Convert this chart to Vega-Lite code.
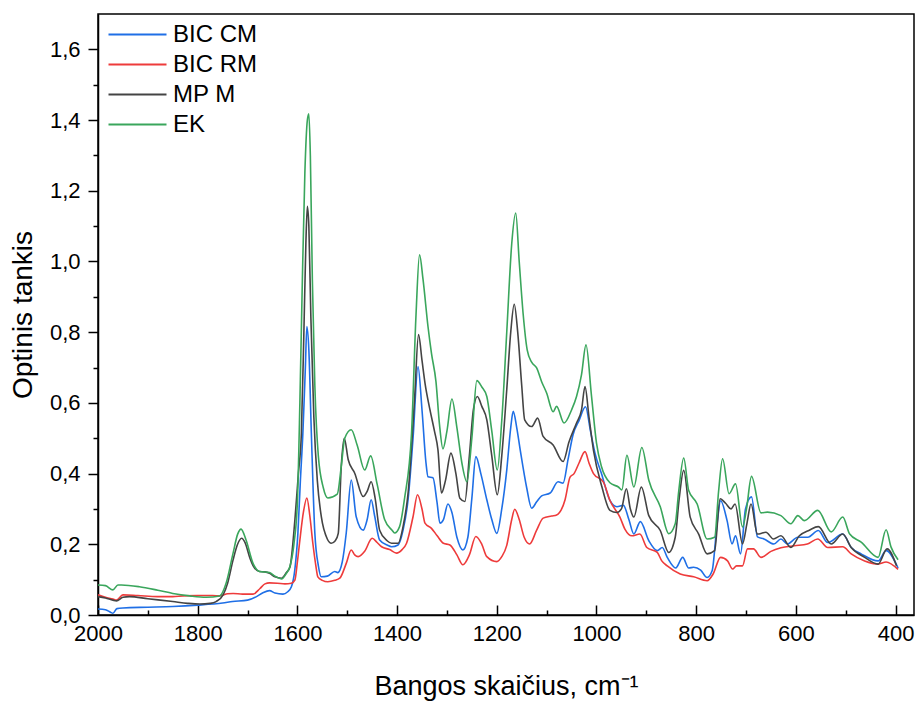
{
  "$schema": "https://vega.github.io/schema/vega-lite/v6.json",
  "width": 816,
  "height": 601,
  "autosize": {"type": "none"},
  "padding": {"left": 98, "top": 14, "right": 4, "bottom": 90},
  "background": "white",
  "config": {
    "font": "Liberation Sans",
    "view": {"stroke": "#000", "strokeWidth": 1.5}
  },
  "data": {
    "values": [
      {"s": "BIC CM", "x": 2000, "y": 0.017}, {"s": "BIC CM", "x": 1985, "y": 0.015}, {"s": "BIC CM", "x": 1975, "y": 0.008}, {"s": "BIC CM", "x": 1970, "y": 0.005},
      {"s": "BIC CM", "x": 1962, "y": 0.018}, {"s": "BIC CM", "x": 1950, "y": 0.02}, {"s": "BIC CM", "x": 1900, "y": 0.022}, {"s": "BIC CM", "x": 1850, "y": 0.024},
      {"s": "BIC CM", "x": 1800, "y": 0.028}, {"s": "BIC CM", "x": 1750, "y": 0.034}, {"s": "BIC CM", "x": 1730, "y": 0.038}, {"s": "BIC CM", "x": 1700, "y": 0.042},
      {"s": "BIC CM", "x": 1682, "y": 0.052}, {"s": "BIC CM", "x": 1670, "y": 0.062}, {"s": "BIC CM", "x": 1656, "y": 0.069}, {"s": "BIC CM", "x": 1645, "y": 0.062},
      {"s": "BIC CM", "x": 1629, "y": 0.059}, {"s": "BIC CM", "x": 1620, "y": 0.065}, {"s": "BIC CM", "x": 1612, "y": 0.08}, {"s": "BIC CM", "x": 1605, "y": 0.13},
      {"s": "BIC CM", "x": 1599, "y": 0.231}, {"s": "BIC CM", "x": 1594, "y": 0.38}, {"s": "BIC CM", "x": 1589, "y": 0.514}, {"s": "BIC CM", "x": 1584, "y": 0.7},
      {"s": "BIC CM", "x": 1581, "y": 0.816}, {"s": "BIC CM", "x": 1577, "y": 0.75}, {"s": "BIC CM", "x": 1572, "y": 0.515}, {"s": "BIC CM", "x": 1565, "y": 0.232},
      {"s": "BIC CM", "x": 1558, "y": 0.14}, {"s": "BIC CM", "x": 1552, "y": 0.108}, {"s": "BIC CM", "x": 1540, "y": 0.11}, {"s": "BIC CM", "x": 1525, "y": 0.123},
      {"s": "BIC CM", "x": 1519, "y": 0.12}, {"s": "BIC CM", "x": 1510, "y": 0.15}, {"s": "BIC CM", "x": 1502, "y": 0.232}, {"s": "BIC CM", "x": 1492, "y": 0.382},
      {"s": "BIC CM", "x": 1482, "y": 0.278}, {"s": "BIC CM", "x": 1468, "y": 0.24}, {"s": "BIC CM", "x": 1460, "y": 0.27}, {"s": "BIC CM", "x": 1452, "y": 0.326},
      {"s": "BIC CM", "x": 1445, "y": 0.28}, {"s": "BIC CM", "x": 1435, "y": 0.212}, {"s": "BIC CM", "x": 1420, "y": 0.198}, {"s": "BIC CM", "x": 1411, "y": 0.193},
      {"s": "BIC CM", "x": 1398, "y": 0.198}, {"s": "BIC CM", "x": 1388, "y": 0.24}, {"s": "BIC CM", "x": 1378, "y": 0.326}, {"s": "BIC CM", "x": 1368, "y": 0.5},
      {"s": "BIC CM", "x": 1358, "y": 0.703}, {"s": "BIC CM", "x": 1350, "y": 0.58}, {"s": "BIC CM", "x": 1342, "y": 0.43}, {"s": "BIC CM", "x": 1338, "y": 0.391},
      {"s": "BIC CM", "x": 1328, "y": 0.388}, {"s": "BIC CM", "x": 1320, "y": 0.32}, {"s": "BIC CM", "x": 1314, "y": 0.26}, {"s": "BIC CM", "x": 1307, "y": 0.27},
      {"s": "BIC CM", "x": 1298, "y": 0.314}, {"s": "BIC CM", "x": 1290, "y": 0.29}, {"s": "BIC CM", "x": 1280, "y": 0.22}, {"s": "BIC CM", "x": 1268, "y": 0.184},
      {"s": "BIC CM", "x": 1258, "y": 0.22}, {"s": "BIC CM", "x": 1250, "y": 0.33}, {"s": "BIC CM", "x": 1242, "y": 0.448}, {"s": "BIC CM", "x": 1232, "y": 0.4},
      {"s": "BIC CM", "x": 1220, "y": 0.326}, {"s": "BIC CM", "x": 1210, "y": 0.27}, {"s": "BIC CM", "x": 1200, "y": 0.231}, {"s": "BIC CM", "x": 1190, "y": 0.3},
      {"s": "BIC CM", "x": 1180, "y": 0.41}, {"s": "BIC CM", "x": 1172, "y": 0.53}, {"s": "BIC CM", "x": 1167, "y": 0.576}, {"s": "BIC CM", "x": 1160, "y": 0.53},
      {"s": "BIC CM", "x": 1153, "y": 0.467}, {"s": "BIC CM", "x": 1140, "y": 0.36}, {"s": "BIC CM", "x": 1130, "y": 0.302}, {"s": "BIC CM", "x": 1120, "y": 0.32},
      {"s": "BIC CM", "x": 1110, "y": 0.337}, {"s": "BIC CM", "x": 1093, "y": 0.345}, {"s": "BIC CM", "x": 1077, "y": 0.377}, {"s": "BIC CM", "x": 1067, "y": 0.373},
      {"s": "BIC CM", "x": 1057, "y": 0.44}, {"s": "BIC CM", "x": 1047, "y": 0.51}, {"s": "BIC CM", "x": 1035, "y": 0.55}, {"s": "BIC CM", "x": 1022, "y": 0.589},
      {"s": "BIC CM", "x": 1012, "y": 0.52}, {"s": "BIC CM", "x": 1003, "y": 0.458}, {"s": "BIC CM", "x": 990, "y": 0.4}, {"s": "BIC CM", "x": 973, "y": 0.324},
      {"s": "BIC CM", "x": 959, "y": 0.306}, {"s": "BIC CM", "x": 946, "y": 0.31}, {"s": "BIC CM", "x": 935, "y": 0.27}, {"s": "BIC CM", "x": 925, "y": 0.229},
      {"s": "BIC CM", "x": 912, "y": 0.264}, {"s": "BIC CM", "x": 895, "y": 0.21}, {"s": "BIC CM", "x": 878, "y": 0.182}, {"s": "BIC CM", "x": 868, "y": 0.191},
      {"s": "BIC CM", "x": 858, "y": 0.163}, {"s": "BIC CM", "x": 841, "y": 0.133}, {"s": "BIC CM", "x": 827, "y": 0.163}, {"s": "BIC CM", "x": 815, "y": 0.133},
      {"s": "BIC CM", "x": 805, "y": 0.135}, {"s": "BIC CM", "x": 791, "y": 0.127}, {"s": "BIC CM", "x": 778, "y": 0.106}, {"s": "BIC CM", "x": 768, "y": 0.125},
      {"s": "BIC CM", "x": 758, "y": 0.258}, {"s": "BIC CM", "x": 751, "y": 0.323}, {"s": "BIC CM", "x": 738, "y": 0.267}, {"s": "BIC CM", "x": 728, "y": 0.201},
      {"s": "BIC CM", "x": 721, "y": 0.224}, {"s": "BIC CM", "x": 711, "y": 0.173}, {"s": "BIC CM", "x": 701, "y": 0.3}, {"s": "BIC CM", "x": 689, "y": 0.334},
      {"s": "BIC CM", "x": 677, "y": 0.221}, {"s": "BIC CM", "x": 664, "y": 0.215}, {"s": "BIC CM", "x": 644, "y": 0.201}, {"s": "BIC CM", "x": 630, "y": 0.215},
      {"s": "BIC CM", "x": 617, "y": 0.201}, {"s": "BIC CM", "x": 596, "y": 0.22}, {"s": "BIC CM", "x": 576, "y": 0.22}, {"s": "BIC CM", "x": 555, "y": 0.239},
      {"s": "BIC CM", "x": 536, "y": 0.205}, {"s": "BIC CM", "x": 506, "y": 0.229}, {"s": "BIC CM", "x": 489, "y": 0.191}, {"s": "BIC CM", "x": 469, "y": 0.173},
      {"s": "BIC CM", "x": 435, "y": 0.153}, {"s": "BIC CM", "x": 419, "y": 0.182}, {"s": "BIC CM", "x": 395, "y": 0.133},

      {"s": "BIC RM", "x": 2000, "y": 0.057}, {"s": "BIC RM", "x": 1985, "y": 0.05}, {"s": "BIC RM", "x": 1970, "y": 0.045}, {"s": "BIC RM", "x": 1963, "y": 0.042},
      {"s": "BIC RM", "x": 1950, "y": 0.057}, {"s": "BIC RM", "x": 1920, "y": 0.055}, {"s": "BIC RM", "x": 1880, "y": 0.052}, {"s": "BIC RM", "x": 1850, "y": 0.052},
      {"s": "BIC RM", "x": 1830, "y": 0.054}, {"s": "BIC RM", "x": 1800, "y": 0.055}, {"s": "BIC RM", "x": 1770, "y": 0.055}, {"s": "BIC RM", "x": 1756, "y": 0.054},
      {"s": "BIC RM", "x": 1740, "y": 0.06}, {"s": "BIC RM", "x": 1729, "y": 0.061}, {"s": "BIC RM", "x": 1710, "y": 0.059}, {"s": "BIC RM", "x": 1689, "y": 0.059},
      {"s": "BIC RM", "x": 1675, "y": 0.075}, {"s": "BIC RM", "x": 1665, "y": 0.088}, {"s": "BIC RM", "x": 1656, "y": 0.091}, {"s": "BIC RM", "x": 1640, "y": 0.09},
      {"s": "BIC RM", "x": 1625, "y": 0.088}, {"s": "BIC RM", "x": 1612, "y": 0.09}, {"s": "BIC RM", "x": 1605, "y": 0.099}, {"s": "BIC RM", "x": 1600, "y": 0.15},
      {"s": "BIC RM", "x": 1595, "y": 0.212}, {"s": "BIC RM", "x": 1588, "y": 0.29}, {"s": "BIC RM", "x": 1581, "y": 0.331}, {"s": "BIC RM", "x": 1575, "y": 0.28},
      {"s": "BIC RM", "x": 1569, "y": 0.203}, {"s": "BIC RM", "x": 1563, "y": 0.14}, {"s": "BIC RM", "x": 1559, "y": 0.108}, {"s": "BIC RM", "x": 1550, "y": 0.098},
      {"s": "BIC RM", "x": 1539, "y": 0.094}, {"s": "BIC RM", "x": 1525, "y": 0.098}, {"s": "BIC RM", "x": 1515, "y": 0.104}, {"s": "BIC RM", "x": 1502, "y": 0.146},
      {"s": "BIC RM", "x": 1492, "y": 0.184}, {"s": "BIC RM", "x": 1485, "y": 0.17}, {"s": "BIC RM", "x": 1478, "y": 0.165}, {"s": "BIC RM", "x": 1465, "y": 0.18},
      {"s": "BIC RM", "x": 1450, "y": 0.217}, {"s": "BIC RM", "x": 1440, "y": 0.205}, {"s": "BIC RM", "x": 1431, "y": 0.193}, {"s": "BIC RM", "x": 1415, "y": 0.185},
      {"s": "BIC RM", "x": 1401, "y": 0.175}, {"s": "BIC RM", "x": 1390, "y": 0.185}, {"s": "BIC RM", "x": 1381, "y": 0.203}, {"s": "BIC RM", "x": 1368, "y": 0.278},
      {"s": "BIC RM", "x": 1359, "y": 0.34}, {"s": "BIC RM", "x": 1350, "y": 0.3}, {"s": "BIC RM", "x": 1344, "y": 0.26}, {"s": "BIC RM", "x": 1331, "y": 0.245},
      {"s": "BIC RM", "x": 1320, "y": 0.225}, {"s": "BIC RM", "x": 1307, "y": 0.203}, {"s": "BIC RM", "x": 1294, "y": 0.198}, {"s": "BIC RM", "x": 1280, "y": 0.17},
      {"s": "BIC RM", "x": 1268, "y": 0.142}, {"s": "BIC RM", "x": 1255, "y": 0.17}, {"s": "BIC RM", "x": 1242, "y": 0.222}, {"s": "BIC RM", "x": 1230, "y": 0.2},
      {"s": "BIC RM", "x": 1220, "y": 0.165}, {"s": "BIC RM", "x": 1200, "y": 0.151}, {"s": "BIC RM", "x": 1190, "y": 0.165}, {"s": "BIC RM", "x": 1180, "y": 0.197},
      {"s": "BIC RM", "x": 1170, "y": 0.27}, {"s": "BIC RM", "x": 1164, "y": 0.299}, {"s": "BIC RM", "x": 1155, "y": 0.27}, {"s": "BIC RM", "x": 1145, "y": 0.22},
      {"s": "BIC RM", "x": 1134, "y": 0.201}, {"s": "BIC RM", "x": 1120, "y": 0.24}, {"s": "BIC RM", "x": 1107, "y": 0.274}, {"s": "BIC RM", "x": 1090, "y": 0.28},
      {"s": "BIC RM", "x": 1080, "y": 0.283}, {"s": "BIC RM", "x": 1063, "y": 0.326}, {"s": "BIC RM", "x": 1053, "y": 0.39}, {"s": "BIC RM", "x": 1045, "y": 0.4},
      {"s": "BIC RM", "x": 1035, "y": 0.43}, {"s": "BIC RM", "x": 1023, "y": 0.462}, {"s": "BIC RM", "x": 1015, "y": 0.43}, {"s": "BIC RM", "x": 1006, "y": 0.4},
      {"s": "BIC RM", "x": 986, "y": 0.376}, {"s": "BIC RM", "x": 973, "y": 0.324}, {"s": "BIC RM", "x": 953, "y": 0.277}, {"s": "BIC RM", "x": 943, "y": 0.243},
      {"s": "BIC RM", "x": 929, "y": 0.224}, {"s": "BIC RM", "x": 913, "y": 0.229}, {"s": "BIC RM", "x": 899, "y": 0.191}, {"s": "BIC RM", "x": 878, "y": 0.177},
      {"s": "BIC RM", "x": 869, "y": 0.153}, {"s": "BIC RM", "x": 858, "y": 0.139}, {"s": "BIC RM", "x": 832, "y": 0.116}, {"s": "BIC RM", "x": 805, "y": 0.108},
      {"s": "BIC RM", "x": 778, "y": 0.097}, {"s": "BIC RM", "x": 766, "y": 0.116}, {"s": "BIC RM", "x": 751, "y": 0.163}, {"s": "BIC RM", "x": 737, "y": 0.153},
      {"s": "BIC RM", "x": 727, "y": 0.13}, {"s": "BIC RM", "x": 719, "y": 0.139}, {"s": "BIC RM", "x": 707, "y": 0.139}, {"s": "BIC RM", "x": 697, "y": 0.187},
      {"s": "BIC RM", "x": 685, "y": 0.187}, {"s": "BIC RM", "x": 670, "y": 0.163}, {"s": "BIC RM", "x": 650, "y": 0.18}, {"s": "BIC RM", "x": 630, "y": 0.19},
      {"s": "BIC RM", "x": 603, "y": 0.196}, {"s": "BIC RM", "x": 577, "y": 0.201}, {"s": "BIC RM", "x": 556, "y": 0.215}, {"s": "BIC RM", "x": 536, "y": 0.191},
      {"s": "BIC RM", "x": 506, "y": 0.193}, {"s": "BIC RM", "x": 489, "y": 0.173}, {"s": "BIC RM", "x": 462, "y": 0.153}, {"s": "BIC RM", "x": 435, "y": 0.144},
      {"s": "BIC RM", "x": 419, "y": 0.15}, {"s": "BIC RM", "x": 395, "y": 0.129},

      {"s": "MP M", "x": 2000, "y": 0.052}, {"s": "MP M", "x": 1985, "y": 0.048}, {"s": "MP M", "x": 1970, "y": 0.042}, {"s": "MP M", "x": 1963, "y": 0.04},
      {"s": "MP M", "x": 1950, "y": 0.05}, {"s": "MP M", "x": 1937, "y": 0.052}, {"s": "MP M", "x": 1900, "y": 0.046}, {"s": "MP M", "x": 1850, "y": 0.038},
      {"s": "MP M", "x": 1820, "y": 0.033}, {"s": "MP M", "x": 1796, "y": 0.031}, {"s": "MP M", "x": 1775, "y": 0.033}, {"s": "MP M", "x": 1763, "y": 0.038},
      {"s": "MP M", "x": 1749, "y": 0.057}, {"s": "MP M", "x": 1740, "y": 0.09}, {"s": "MP M", "x": 1729, "y": 0.156}, {"s": "MP M", "x": 1720, "y": 0.2},
      {"s": "MP M", "x": 1712, "y": 0.217}, {"s": "MP M", "x": 1705, "y": 0.205}, {"s": "MP M", "x": 1695, "y": 0.16}, {"s": "MP M", "x": 1689, "y": 0.14},
      {"s": "MP M", "x": 1676, "y": 0.123}, {"s": "MP M", "x": 1665, "y": 0.122}, {"s": "MP M", "x": 1656, "y": 0.118}, {"s": "MP M", "x": 1645, "y": 0.108},
      {"s": "MP M", "x": 1632, "y": 0.104}, {"s": "MP M", "x": 1622, "y": 0.12}, {"s": "MP M", "x": 1615, "y": 0.135}, {"s": "MP M", "x": 1605, "y": 0.269},
      {"s": "MP M", "x": 1598, "y": 0.4}, {"s": "MP M", "x": 1592, "y": 0.514}, {"s": "MP M", "x": 1587, "y": 0.798}, {"s": "MP M", "x": 1583, "y": 1.05},
      {"s": "MP M", "x": 1580, "y": 1.156}, {"s": "MP M", "x": 1577, "y": 1.1}, {"s": "MP M", "x": 1573, "y": 0.844}, {"s": "MP M", "x": 1567, "y": 0.561},
      {"s": "MP M", "x": 1560, "y": 0.38}, {"s": "MP M", "x": 1552, "y": 0.278}, {"s": "MP M", "x": 1540, "y": 0.215}, {"s": "MP M", "x": 1532, "y": 0.203},
      {"s": "MP M", "x": 1524, "y": 0.21}, {"s": "MP M", "x": 1518, "y": 0.231}, {"s": "MP M", "x": 1512, "y": 0.42}, {"s": "MP M", "x": 1506, "y": 0.5},
      {"s": "MP M", "x": 1498, "y": 0.439}, {"s": "MP M", "x": 1485, "y": 0.401}, {"s": "MP M", "x": 1468, "y": 0.335}, {"s": "MP M", "x": 1460, "y": 0.35},
      {"s": "MP M", "x": 1452, "y": 0.377}, {"s": "MP M", "x": 1444, "y": 0.33}, {"s": "MP M", "x": 1435, "y": 0.24}, {"s": "MP M", "x": 1420, "y": 0.21},
      {"s": "MP M", "x": 1411, "y": 0.203}, {"s": "MP M", "x": 1398, "y": 0.203}, {"s": "MP M", "x": 1388, "y": 0.25}, {"s": "MP M", "x": 1378, "y": 0.344},
      {"s": "MP M", "x": 1365, "y": 0.609}, {"s": "MP M", "x": 1357, "y": 0.793}, {"s": "MP M", "x": 1350, "y": 0.72}, {"s": "MP M", "x": 1344, "y": 0.656},
      {"s": "MP M", "x": 1334, "y": 0.58}, {"s": "MP M", "x": 1325, "y": 0.52}, {"s": "MP M", "x": 1318, "y": 0.467}, {"s": "MP M", "x": 1311, "y": 0.345},
      {"s": "MP M", "x": 1303, "y": 0.38}, {"s": "MP M", "x": 1292, "y": 0.458}, {"s": "MP M", "x": 1282, "y": 0.4}, {"s": "MP M", "x": 1274, "y": 0.33},
      {"s": "MP M", "x": 1264, "y": 0.321}, {"s": "MP M", "x": 1255, "y": 0.45}, {"s": "MP M", "x": 1247, "y": 0.58}, {"s": "MP M", "x": 1239, "y": 0.618},
      {"s": "MP M", "x": 1230, "y": 0.59}, {"s": "MP M", "x": 1220, "y": 0.552}, {"s": "MP M", "x": 1210, "y": 0.45}, {"s": "MP M", "x": 1199, "y": 0.34},
      {"s": "MP M", "x": 1190, "y": 0.45}, {"s": "MP M", "x": 1180, "y": 0.637}, {"s": "MP M", "x": 1172, "y": 0.8}, {"s": "MP M", "x": 1165, "y": 0.879},
      {"s": "MP M", "x": 1158, "y": 0.8}, {"s": "MP M", "x": 1150, "y": 0.65}, {"s": "MP M", "x": 1144, "y": 0.552}, {"s": "MP M", "x": 1130, "y": 0.533},
      {"s": "MP M", "x": 1118, "y": 0.557}, {"s": "MP M", "x": 1107, "y": 0.505}, {"s": "MP M", "x": 1087, "y": 0.481}, {"s": "MP M", "x": 1067, "y": 0.434},
      {"s": "MP M", "x": 1055, "y": 0.49}, {"s": "MP M", "x": 1040, "y": 0.543}, {"s": "MP M", "x": 1030, "y": 0.58}, {"s": "MP M", "x": 1023, "y": 0.646},
      {"s": "MP M", "x": 1015, "y": 0.56}, {"s": "MP M", "x": 1006, "y": 0.466}, {"s": "MP M", "x": 989, "y": 0.362}, {"s": "MP M", "x": 973, "y": 0.296},
      {"s": "MP M", "x": 959, "y": 0.29}, {"s": "MP M", "x": 950, "y": 0.3}, {"s": "MP M", "x": 940, "y": 0.357}, {"s": "MP M", "x": 932, "y": 0.3},
      {"s": "MP M", "x": 925, "y": 0.277}, {"s": "MP M", "x": 910, "y": 0.362}, {"s": "MP M", "x": 895, "y": 0.281}, {"s": "MP M", "x": 872, "y": 0.239},
      {"s": "MP M", "x": 855, "y": 0.177}, {"s": "MP M", "x": 842, "y": 0.22}, {"s": "MP M", "x": 834, "y": 0.33}, {"s": "MP M", "x": 825, "y": 0.409},
      {"s": "MP M", "x": 812, "y": 0.277}, {"s": "MP M", "x": 795, "y": 0.229}, {"s": "MP M", "x": 778, "y": 0.173}, {"s": "MP M", "x": 763, "y": 0.182},
      {"s": "MP M", "x": 752, "y": 0.329}, {"s": "MP M", "x": 741, "y": 0.316}, {"s": "MP M", "x": 730, "y": 0.3}, {"s": "MP M", "x": 722, "y": 0.314},
      {"s": "MP M", "x": 707, "y": 0.201}, {"s": "MP M", "x": 698, "y": 0.26}, {"s": "MP M", "x": 690, "y": 0.314}, {"s": "MP M", "x": 677, "y": 0.229},
      {"s": "MP M", "x": 660, "y": 0.234}, {"s": "MP M", "x": 645, "y": 0.215}, {"s": "MP M", "x": 630, "y": 0.224}, {"s": "MP M", "x": 610, "y": 0.191},
      {"s": "MP M", "x": 593, "y": 0.224}, {"s": "MP M", "x": 573, "y": 0.24}, {"s": "MP M", "x": 555, "y": 0.25}, {"s": "MP M", "x": 529, "y": 0.201},
      {"s": "MP M", "x": 506, "y": 0.229}, {"s": "MP M", "x": 489, "y": 0.191}, {"s": "MP M", "x": 462, "y": 0.163}, {"s": "MP M", "x": 435, "y": 0.144},
      {"s": "MP M", "x": 417, "y": 0.187}, {"s": "MP M", "x": 398, "y": 0.139},

      {"s": "EK", "x": 2000, "y": 0.085}, {"s": "EK", "x": 1985, "y": 0.083}, {"s": "EK", "x": 1970, "y": 0.071}, {"s": "EK", "x": 1960, "y": 0.085},
      {"s": "EK", "x": 1953, "y": 0.085}, {"s": "EK", "x": 1917, "y": 0.08}, {"s": "EK", "x": 1880, "y": 0.07}, {"s": "EK", "x": 1850, "y": 0.061},
      {"s": "EK", "x": 1816, "y": 0.054}, {"s": "EK", "x": 1783, "y": 0.05}, {"s": "EK", "x": 1756, "y": 0.054}, {"s": "EK", "x": 1743, "y": 0.09},
      {"s": "EK", "x": 1729, "y": 0.175}, {"s": "EK", "x": 1720, "y": 0.228}, {"s": "EK", "x": 1713, "y": 0.243}, {"s": "EK", "x": 1703, "y": 0.212},
      {"s": "EK", "x": 1689, "y": 0.146}, {"s": "EK", "x": 1676, "y": 0.123}, {"s": "EK", "x": 1656, "y": 0.12}, {"s": "EK", "x": 1645, "y": 0.11},
      {"s": "EK", "x": 1632, "y": 0.102}, {"s": "EK", "x": 1622, "y": 0.118}, {"s": "EK", "x": 1615, "y": 0.137}, {"s": "EK", "x": 1607, "y": 0.2},
      {"s": "EK", "x": 1600, "y": 0.32}, {"s": "EK", "x": 1595, "y": 0.6}, {"s": "EK", "x": 1590, "y": 0.95}, {"s": "EK", "x": 1585, "y": 1.25},
      {"s": "EK", "x": 1580, "y": 1.4}, {"s": "EK", "x": 1577, "y": 1.418}, {"s": "EK", "x": 1574, "y": 1.3}, {"s": "EK", "x": 1570, "y": 0.95},
      {"s": "EK", "x": 1565, "y": 0.65}, {"s": "EK", "x": 1558, "y": 0.45}, {"s": "EK", "x": 1548, "y": 0.36}, {"s": "EK", "x": 1539, "y": 0.331},
      {"s": "EK", "x": 1520, "y": 0.342}, {"s": "EK", "x": 1512, "y": 0.42}, {"s": "EK", "x": 1505, "y": 0.5}, {"s": "EK", "x": 1492, "y": 0.524},
      {"s": "EK", "x": 1480, "y": 0.48}, {"s": "EK", "x": 1465, "y": 0.41}, {"s": "EK", "x": 1453, "y": 0.45}, {"s": "EK", "x": 1440, "y": 0.37},
      {"s": "EK", "x": 1425, "y": 0.27}, {"s": "EK", "x": 1410, "y": 0.24}, {"s": "EK", "x": 1405, "y": 0.232}, {"s": "EK", "x": 1395, "y": 0.25},
      {"s": "EK", "x": 1385, "y": 0.33}, {"s": "EK", "x": 1371, "y": 0.515}, {"s": "EK", "x": 1362, "y": 0.85}, {"s": "EK", "x": 1355, "y": 1.019},
      {"s": "EK", "x": 1348, "y": 0.95}, {"s": "EK", "x": 1338, "y": 0.816}, {"s": "EK", "x": 1331, "y": 0.74}, {"s": "EK", "x": 1322, "y": 0.66},
      {"s": "EK", "x": 1315, "y": 0.54}, {"s": "EK", "x": 1308, "y": 0.47}, {"s": "EK", "x": 1300, "y": 0.52}, {"s": "EK", "x": 1290, "y": 0.611},
      {"s": "EK", "x": 1280, "y": 0.53}, {"s": "EK", "x": 1270, "y": 0.43}, {"s": "EK", "x": 1260, "y": 0.377}, {"s": "EK", "x": 1250, "y": 0.5},
      {"s": "EK", "x": 1240, "y": 0.663}, {"s": "EK", "x": 1230, "y": 0.645}, {"s": "EK", "x": 1220, "y": 0.618}, {"s": "EK", "x": 1210, "y": 0.52},
      {"s": "EK", "x": 1199, "y": 0.41}, {"s": "EK", "x": 1190, "y": 0.55}, {"s": "EK", "x": 1180, "y": 0.8}, {"s": "EK", "x": 1170, "y": 1.05},
      {"s": "EK", "x": 1162, "y": 1.137}, {"s": "EK", "x": 1155, "y": 1.0}, {"s": "EK", "x": 1147, "y": 0.85}, {"s": "EK", "x": 1139, "y": 0.75},
      {"s": "EK", "x": 1130, "y": 0.715}, {"s": "EK", "x": 1120, "y": 0.699}, {"s": "EK", "x": 1110, "y": 0.66}, {"s": "EK", "x": 1100, "y": 0.628},
      {"s": "EK", "x": 1087, "y": 0.575}, {"s": "EK", "x": 1080, "y": 0.59}, {"s": "EK", "x": 1065, "y": 0.543}, {"s": "EK", "x": 1050, "y": 0.58},
      {"s": "EK", "x": 1040, "y": 0.618}, {"s": "EK", "x": 1030, "y": 0.68}, {"s": "EK", "x": 1021, "y": 0.764}, {"s": "EK", "x": 1010, "y": 0.62},
      {"s": "EK", "x": 1000, "y": 0.487}, {"s": "EK", "x": 990, "y": 0.42}, {"s": "EK", "x": 973, "y": 0.374}, {"s": "EK", "x": 956, "y": 0.362},
      {"s": "EK", "x": 949, "y": 0.354}, {"s": "EK", "x": 939, "y": 0.452}, {"s": "EK", "x": 925, "y": 0.362}, {"s": "EK", "x": 909, "y": 0.474},
      {"s": "EK", "x": 895, "y": 0.381}, {"s": "EK", "x": 872, "y": 0.306}, {"s": "EK", "x": 855, "y": 0.23}, {"s": "EK", "x": 842, "y": 0.258},
      {"s": "EK", "x": 835, "y": 0.35}, {"s": "EK", "x": 825, "y": 0.444}, {"s": "EK", "x": 815, "y": 0.352}, {"s": "EK", "x": 798, "y": 0.314},
      {"s": "EK", "x": 778, "y": 0.215}, {"s": "EK", "x": 763, "y": 0.22}, {"s": "EK", "x": 755, "y": 0.35}, {"s": "EK", "x": 747, "y": 0.442},
      {"s": "EK", "x": 734, "y": 0.343}, {"s": "EK", "x": 721, "y": 0.371}, {"s": "EK", "x": 707, "y": 0.249}, {"s": "EK", "x": 699, "y": 0.3},
      {"s": "EK", "x": 689, "y": 0.392}, {"s": "EK", "x": 670, "y": 0.289}, {"s": "EK", "x": 657, "y": 0.291}, {"s": "EK", "x": 630, "y": 0.281},
      {"s": "EK", "x": 610, "y": 0.258}, {"s": "EK", "x": 596, "y": 0.281}, {"s": "EK", "x": 583, "y": 0.267}, {"s": "EK", "x": 556, "y": 0.296},
      {"s": "EK", "x": 529, "y": 0.235}, {"s": "EK", "x": 506, "y": 0.277}, {"s": "EK", "x": 492, "y": 0.229}, {"s": "EK", "x": 469, "y": 0.206},
      {"s": "EK", "x": 435, "y": 0.163}, {"s": "EK", "x": 419, "y": 0.241}, {"s": "EK", "x": 409, "y": 0.192}, {"s": "EK", "x": 395, "y": 0.156}
    ]
  },
  "mark": {"type": "line", "interpolate": "monotone", "strokeWidth": 1.6, "clip": true},
  "encoding": {
    "x": {
      "field": "x",
      "type": "quantitative",
      "scale": {"domain": [2000, 363], "nice": false, "zero": false},
      "axis": {
        "title": "Bangos skaičius, cm⁻¹",
        "values": [2000, 1900, 1800, 1700, 1600, 1500, 1400, 1300, 1200, 1100, 1000, 900, 800, 700, 600, 500, 400],
        "format": "d",
        "labelExpr": "datum.value % 200 === 0 ? datum.label : ''",
        "tickSize": {"condition": {"test": "datum.value % 200 === 0", "value": -10}, "value": -5},
        "labelPadding": 18,
        "labelFlush": false,
        "labelOverlap": false,
        "grid": false,
        "domainColor": "#000",
        "domainWidth": 1.5,
        "tickColor": "#000",
        "tickWidth": 1.5,
        "labelFont": "Liberation Sans",
        "labelFontSize": 22,
        "labelColor": "#000",
        "titleFont": "Liberation Sans",
        "titleFontSize": 27,
        "titleFontWeight": "normal",
        "titleColor": "#000",
        "titlePadding": 24
      }
    },
    "y": {
      "field": "y",
      "type": "quantitative",
      "scale": {"domain": [0, 1.7], "nice": false},
      "axis": {
        "title": "Optinis tankis",
        "values": [0, 0.1, 0.2, 0.3, 0.4, 0.5, 0.6, 0.7, 0.8, 0.9, 1.0, 1.1, 1.2, 1.3, 1.4, 1.5, 1.6],
        "labelExpr": "round(datum.value * 10) % 2 === 0 ? replace(format(datum.value, '.1f'), '.', ',') : ''",
        "tickSize": {"condition": {"test": "round(datum.value * 10) % 2 === 0", "value": 10}, "value": 5},
        "labelPadding": 8,
        "labelFlush": false,
        "labelOverlap": false,
        "grid": false,
        "domainColor": "#000",
        "domainWidth": 1.5,
        "tickColor": "#000",
        "tickWidth": 1.5,
        "labelFont": "Liberation Sans",
        "labelFontSize": 22,
        "labelColor": "#000",
        "titleFont": "Liberation Sans",
        "titleFontSize": 28,
        "titleFontWeight": "normal",
        "titleColor": "#000",
        "titlePadding": 12
      }
    },
    "color": {
      "field": "s",
      "type": "nominal",
      "scale": {"domain": ["BIC CM", "BIC RM", "MP M", "EK"], "range": ["#1f6fe6", "#ee3b3b", "#444444", "#3aa65c"]},
      "legend": {
        "title": null,
        "orient": "none",
        "legendX": 24,
        "legendY": 5,
        "symbolType": "M-2,0H2",
        "symbolSize": 841,
        "symbolStrokeWidth": 2,
        "labelFont": "Liberation Sans",
        "labelFontSize": 24,
        "labelColor": "#000",
        "labelOffset": 20,
        "rowPadding": 2,
        "padding": 0
      }
    }
  }
}
